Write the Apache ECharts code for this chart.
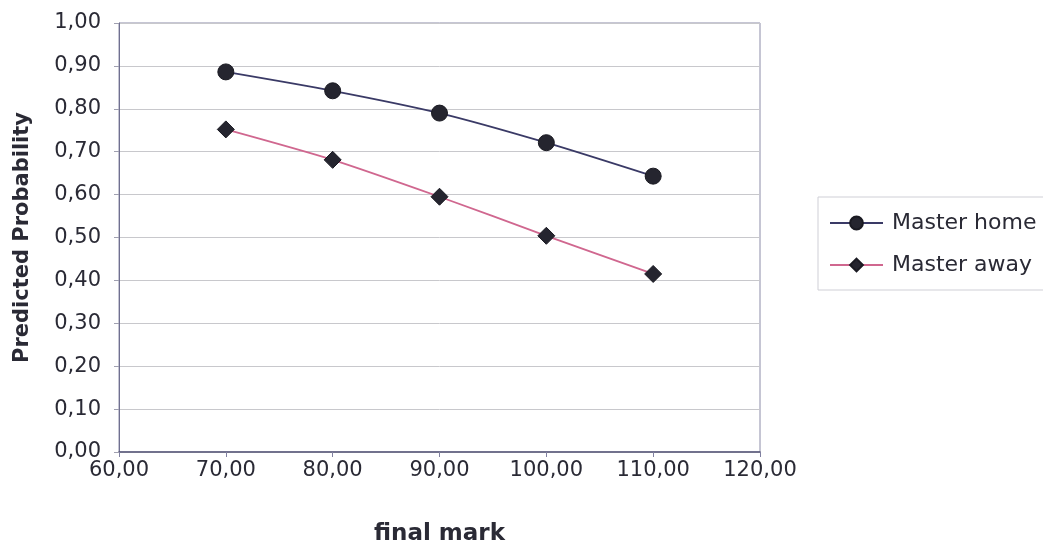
<!DOCTYPE html>
<html>
<head>
<meta charset="utf-8">
<script src="https://cdn.jsdelivr.net/npm/echarts@6/dist/echarts.min.js"></script>
<style>
html,body{margin:0;padding:0;background:#fff;}
#c{width:1043px;height:549px;}
</style>
</head>
<body>
<div id="c"></div>
<script>
const finalMarks = [70, 80, 90, 100, 110];
const masterHome = [0.886, 0.842, 0.790, 0.721, 0.643];
const masterAway = [0.752, 0.681, 0.595, 0.504, 0.415];
const seriesNames = ['Master home', 'Master away'];

const fmt = v => v.toFixed(2).replace('.', ',');
const FONT = 'DejaVu Sans';

const chart = echarts.init(document.getElementById('c'), null, {renderer: 'canvas'});
chart.setOption({
  animation: false,
  backgroundColor: '#ffffff',
  textStyle: {fontFamily: FONT},
  grid: {left: 119, right: 283, top: 23, bottom: 97, show: true, borderColor: '#8c8ca8', borderWidth: 1, backgroundColor: '#ffffff', outerBoundsMode: 'none', containLabel: false},
  legend: {
    left: 818, top: 197,
    orient: 'vertical',
    data: seriesNames,
    itemWidth: 53, itemHeight: 16, itemGap: 20,
    padding: [15, 40, 14, 11],
    borderColor: '#cfcfd6', borderWidth: 1,
    textStyle: {fontFamily: FONT, fontSize: 22, color: '#2a2a35', padding: [0, 0, 0, 4]}
  },
  xAxis: {
    type: 'value', min: 60, max: 120, interval: 10,
    name: 'final mark', nameLocation: 'middle', nameGap: 71,
    nameTextStyle: {fontFamily: FONT, fontSize: 23, fontWeight: 'bold', color: '#2a2a35'},
    axisLine: {show: true, lineStyle: {color: '#555577', width: 1.5}},
    axisTick: {show: true, length: 5, lineStyle: {color: '#8080a0'}},
    axisLabel: {formatter: fmt, fontFamily: FONT, fontSize: 21, color: '#2a2a35', margin: 8},
    splitLine: {show: false}
  },
  yAxis: {
    type: 'value', min: 0, max: 1, interval: 0.1,
    name: 'Predicted Probability', nameLocation: 'middle', nameGap: 86, nameRotate: 90,
    nameTextStyle: {fontFamily: FONT, fontSize: 21, fontWeight: 'bold', color: '#2a2a35'},
    axisLine: {show: true, lineStyle: {color: '#707090', width: 1}},
    axisTick: {show: true, length: 5, lineStyle: {color: '#a0a0b0'}},
    axisLabel: {formatter: fmt, fontFamily: FONT, fontSize: 21, color: '#2a2a35', margin: 18},
    splitLine: {show: true, lineStyle: {color: '#c8c8cc', width: 1}}
  },
  series: [
    {
      name: seriesNames[0], type: 'line', smooth: 0.25,
      data: finalMarks.map((x, i) => [x, masterHome[i]]),
      symbol: 'circle', symbolSize: 16,
      lineStyle: {color: '#3a3a66', width: 1.8},
      itemStyle: {color: '#25252f', borderColor: '#1a1a22', borderWidth: 1}
    },
    {
      name: seriesNames[1], type: 'line', smooth: 0.25,
      data: finalMarks.map((x, i) => [x, masterAway[i]]),
      symbol: 'diamond', symbolSize: 17,
      lineStyle: {color: '#d0678f', width: 1.8},
      itemStyle: {color: '#25252f', borderColor: '#1a1a22', borderWidth: 1}
    }
  ]
});
</script>
</body>
</html>
